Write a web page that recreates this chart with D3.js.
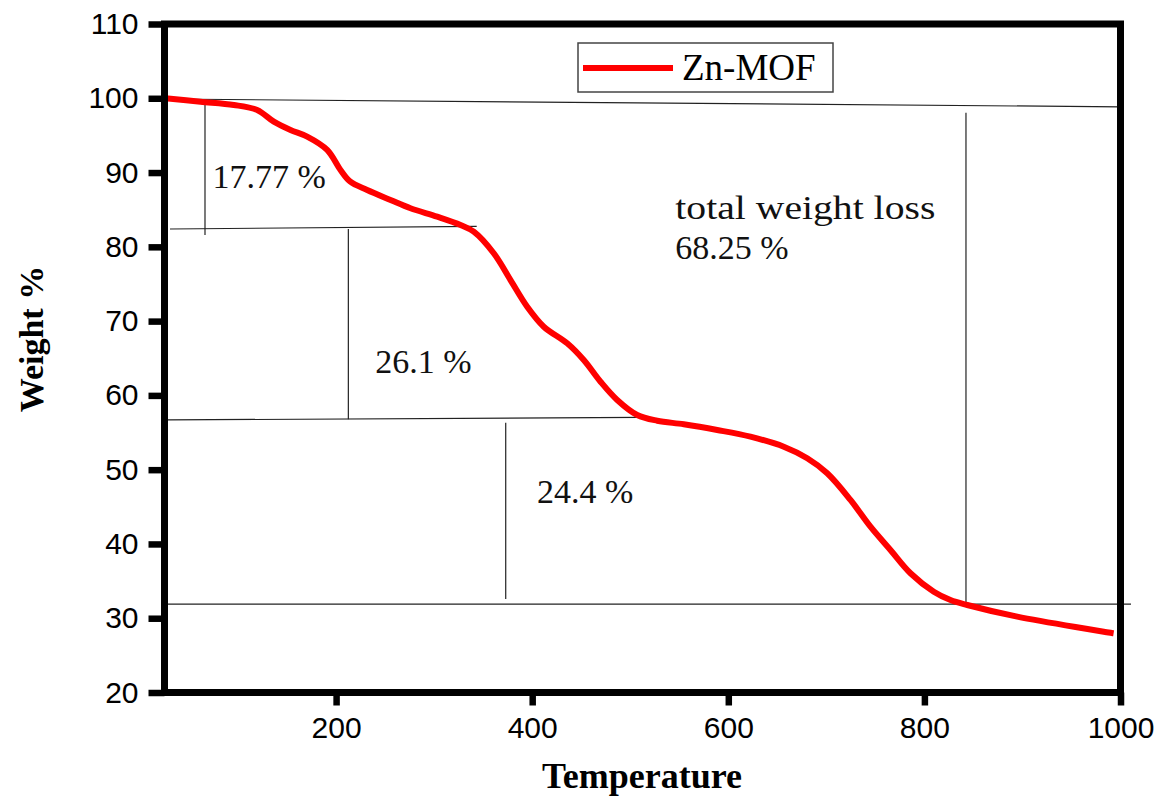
<!DOCTYPE html>
<html>
<head>
<meta charset="utf-8">
<script src="https://cdn.jsdelivr.net/npm/d3@7"></script>
<style>
  body { margin: 0; background: #fff; overflow: hidden; }
  svg { display: block; }
  .tick text { font-family: "Liberation Sans", Arial, sans-serif; font-size: 30px; fill: #000; }
  .ann { font-family: "Liberation Serif", "Times New Roman", serif; font-size: 34px; fill: #111; }
</style>
</head>
<body>
<div id="chart"></div>
<script>
/* global d3 */

// TGA curve (temperature, weight %)
var temps = [26, 61.7, 95.7, 119.5, 136.5, 153.5, 170.5, 190.9, 204.5, 214.2, 231.7, 255.5, 275.9, 303.1,
  326.9, 340.4, 360.8, 377.9, 394.9, 411.8, 435.7, 452.6, 469.7, 486.7, 507.1, 527.5, 554.6, 588.7,
  622.6, 656.6, 680.5, 700.9, 724.6, 745, 765.4, 785.8, 809.6, 826.6, 843.7, 894.7, 993];
var weights = [100, 99.54, 99.1, 98.42, 96.85, 95.73, 94.83, 93.04, 90.34, 88.8, 87.65, 86.31, 85.19, 84.06,
  82.94, 82.04, 79.13, 75.53, 71.94, 69.25, 67.01, 64.76, 61.84, 59.38, 57.36, 56.59, 56.11, 55.34,
  54.44, 53.09, 51.53, 49.51, 45.92, 42.32, 39.18, 36.05, 33.57, 32.45, 31.78, 30.21, 27.97];

var xTicks = [200, 400, 600, 800, 1000];
var yTicks = [20, 30, 40, 50, 60, 70, 80, 90, 100, 110];

// guide lines drawn on the plot: [x1, y1, x2, y2]
var guideLines = [
  [25, 99.9, 1000, 98.85],
  [66.3, 99.7, 66.3, 81.6],
  [30.6, 82.4, 343.4, 82.76],
  [212.5, 82.4, 212.5, 56.78],
  [27.9, 56.69, 509.9, 57.05],
  [373, 56.32, 373, 32.59],
  [28.6, 31.91, 1010.7, 31.91],
  [842.4, 98.06, 842.4, 31.78]
];
var labels = [
  {text: "17.77 %", x: 74, y: 87.9},
  {text: "26.1 %", x: 240, y: 63.0},
  {text: "24.4 %", x: 405, y: 45.5},
  {text: "total weight loss", x: 546, y: 83.8, len: 260},
  {text: "68.25 %", x: 546, y: 78.4}
];
var seriesName = "Zn-MOF";

var width = 1160, height = 799,
  margin = {top: 24, right: 39.5, bottom: 106.5, left: 164.5},
  innerWidth = width - margin.left - margin.right,
  innerHeight = height - margin.top - margin.bottom;

var x = d3.scaleLinear().domain([25, 1000]).range([0, innerWidth]);
var y = d3.scaleLinear().domain([20, 110]).range([innerHeight, 0]);

var svg = d3.select("#chart").append("svg")
    .attr("width", width)
    .attr("height", height);

var g = svg.append("g")
    .attr("transform", "translate(" + margin.left + "," + margin.top + ")");

// guide lines
g.selectAll(".guide")
    .data(guideLines)
  .enter().append("line")
    .attr("class", "guide")
    .attr("x1", function(d) { return x(d[0]); })
    .attr("y1", function(d) { return y(d[1]); })
    .attr("x2", function(d) { return x(d[2]); })
    .attr("y2", function(d) { return y(d[3]); })
    .attr("stroke", "#222")
    .attr("stroke-width", 1.2);

g.selectAll(".ann")
    .data(labels)
  .enter().append("text")
    .attr("class", "ann")
    .attr("x", function(d) { return x(d.x); })
    .attr("y", function(d) { return y(d.y); })
    .each(function(d) {
      if (d.len) d3.select(this).attr("textLength", d.len).attr("lengthAdjust", "spacingAndGlyphs");
    })
    .text(function(d) { return d.text; });

var points = temps.map(function(t, i) { return [t, weights[i]]; });

var line = d3.line()
    .x(function(d) { return x(d[0]); })
    .y(function(d) { return y(d[1]); })
    .curve(d3.curveCatmullRom.alpha(0.5));

g.append("path")
    .datum(points)
    .attr("fill", "none")
    .attr("stroke", "#ff0000")
    .attr("stroke-width", 6)
    .attr("d", line);

// axes
var xAxis = g.append("g")
    .attr("transform", "translate(0," + innerHeight + ")")
    .call(d3.axisBottom(x).tickValues(xTicks).tickFormat(d3.format("d"))
      .tickSize(13).tickSizeOuter(0).tickPadding(11));
var yAxis = g.append("g")
    .call(d3.axisLeft(y).tickValues(yTicks).tickSize(16).tickSizeOuter(0).tickPadding(10));

[xAxis, yAxis].forEach(function(a) {
  a.select(".domain").remove();
  a.selectAll(".tick line").attr("stroke", "#000").attr("stroke-width", 6.5);
});

// frame
g.append("rect")
    .attr("width", innerWidth)
    .attr("height", innerHeight)
    .attr("fill", "none")
    .attr("stroke", "#000")
    .attr("stroke-width", 7);

// legend
var legend = svg.append("g").attr("transform", "translate(578,43)");
legend.append("rect")
    .attr("width", 255)
    .attr("height", 49)
    .attr("fill", "#fff")
    .attr("stroke", "#444")
    .attr("stroke-width", 1.5);
legend.append("line")
    .attr("x1", 5).attr("x2", 95)
    .attr("y1", 25).attr("y2", 25)
    .attr("stroke", "#ff0000")
    .attr("stroke-width", 6);
legend.append("text")
    .attr("x", 104)
    .attr("y", 36.5)
    .style("font-family", "'Liberation Serif', 'Times New Roman', serif")
    .style("font-size", "37px")
    .text(seriesName);

// axis titles
svg.append("text")
    .attr("x", 642)
    .attr("y", 788)
    .attr("text-anchor", "middle")
    .style("font-family", "'Liberation Serif', 'Times New Roman', serif")
    .style("font-weight", "bold")
    .style("font-size", "36px")
    .text("Temperature");

svg.append("text")
    .attr("transform", "translate(43,339) rotate(-90)")
    .attr("text-anchor", "middle")
    .style("font-family", "'Liberation Serif', 'Times New Roman', serif")
    .style("font-weight", "bold")
    .style("font-size", "34px")
    .text("Weight %");
</script>
</body>
</html>
